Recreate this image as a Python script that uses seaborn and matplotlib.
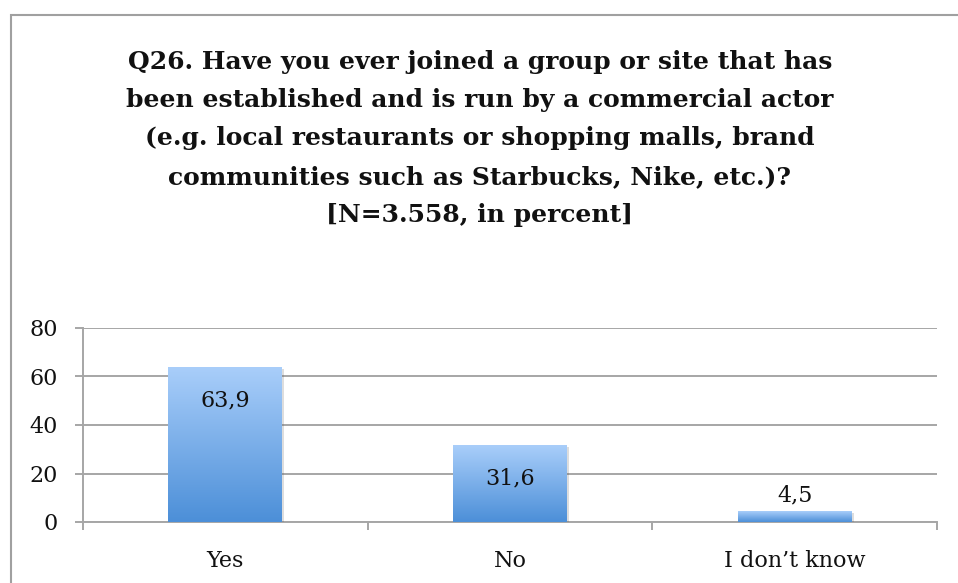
import numpy as np
import pandas as pd
import matplotlib
matplotlib.use("Agg")
import matplotlib.pyplot as plt
import matplotlib.patheffects as pe
from matplotlib.colors import LinearSegmentedColormap
from matplotlib.patches import Rectangle
import seaborn as sns

# Survey answers and shares (percent)
categories = ["Yes", "No", "I don\u2019t know"]
values = [63.9, 31.6, 4.5]
y_ticks = [0, 20, 40, 60, 80]

title = ("Q26. Have you ever joined a group or site that has\n"
         "been established and is run by a commercial actor\n"
         "(e.g. local restaurants or shopping malls, brand\n"
         "communities such as Starbucks, Nike, etc.)?\n"
         "[N=3.558, in percent]")

sns.set_theme(style="white")
plt.rcParams["font.family"] = ["DejaVu Serif"]

df = pd.DataFrame({"answer": categories, "share": values})

fig = plt.figure(figsize=(9.58, 5.83), dpi=100)
ax = fig.add_axes([83 / 958, 1 - 522 / 583, (937 - 83) / 958, (522 - 328) / 583])

sns.barplot(data=df, x="answer", y="share", ax=ax, width=0.4,
            color="#7FB2EC", edgecolor="none", saturation=1, zorder=3)

# Vertical gradient fill for each bar, with a soft drop shadow
grad_cmap = LinearSegmentedColormap.from_list("barfill", ["#4C8FD8", "#A9CEFA"])
grad = np.linspace(0, 1, 256).reshape(-1, 1)
for patch in ax.patches:
    patch.set_path_effects([pe.SimplePatchShadow(offset=(1.5, -1.5), alpha=0.2, shadow_rgbFace="#555555"),
                            pe.Normal()])
    x0, y0 = patch.get_x(), patch.get_y()
    w, h = patch.get_width(), patch.get_height()
    im = ax.imshow(grad, cmap=grad_cmap, origin="lower", aspect="auto",
                   extent=[x0, x0 + w, y0, y0 + h], zorder=4)
    im.set_clip_path(patch)
ax.set_ylim(0, 80)
ax.set_xlim(-0.5, 2.5)

# Value labels: inside the bar top when there is room, otherwise above
for i, v in enumerate(values):
    label = f"{v:.1f}".replace(".", ",")
    offset = -24 if v > 15 else 11
    ax.annotate(label, (i, v), xytext=(0, offset), textcoords="offset points",
                ha="center", va="center", fontsize=16, color="#111111", zorder=6)

# Axes styling
grid_color = "#A6A6A6"
ax.set_yticks(y_ticks)
ax.yaxis.grid(True, color=grid_color, linewidth=1.4, zorder=0)
ax.xaxis.grid(False)
for side in ["top", "right"]:
    ax.spines[side].set_visible(False)
for side in ["left", "bottom"]:
    ax.spines[side].set_color(grid_color)
    ax.spines[side].set_linewidth(1.4)

ax.set_xlabel("")
ax.set_ylabel("")
ax.tick_params(axis="y", which="major", left=True, length=6, width=1.4, color=grid_color,
               labelsize=16, pad=12, labelcolor="#111111")
ax.tick_params(axis="x", which="major", bottom=False, labelsize=16, pad=14, labelcolor="#111111")
ax.set_xticks([-0.5, 0.5, 1.5, 2.5], minor=True)
ax.tick_params(axis="x", which="minor", bottom=True, length=6, width=1.4, color=grid_color)

# Title
fig.text(0.501, 1 - 50 / 583, title, ha="center", va="top", fontsize=18,
         fontweight="bold", linespacing=1.75, color="#111111")

# Chart frame
fig.patches.append(Rectangle((11 / 958, -0.05), 1.2, 1 - 15 / 583 + 0.05,
                             transform=fig.transFigure, fill=False,
                             edgecolor="#A0A0A0", linewidth=1.5))

fig.savefig("out.png", dpi=100)
